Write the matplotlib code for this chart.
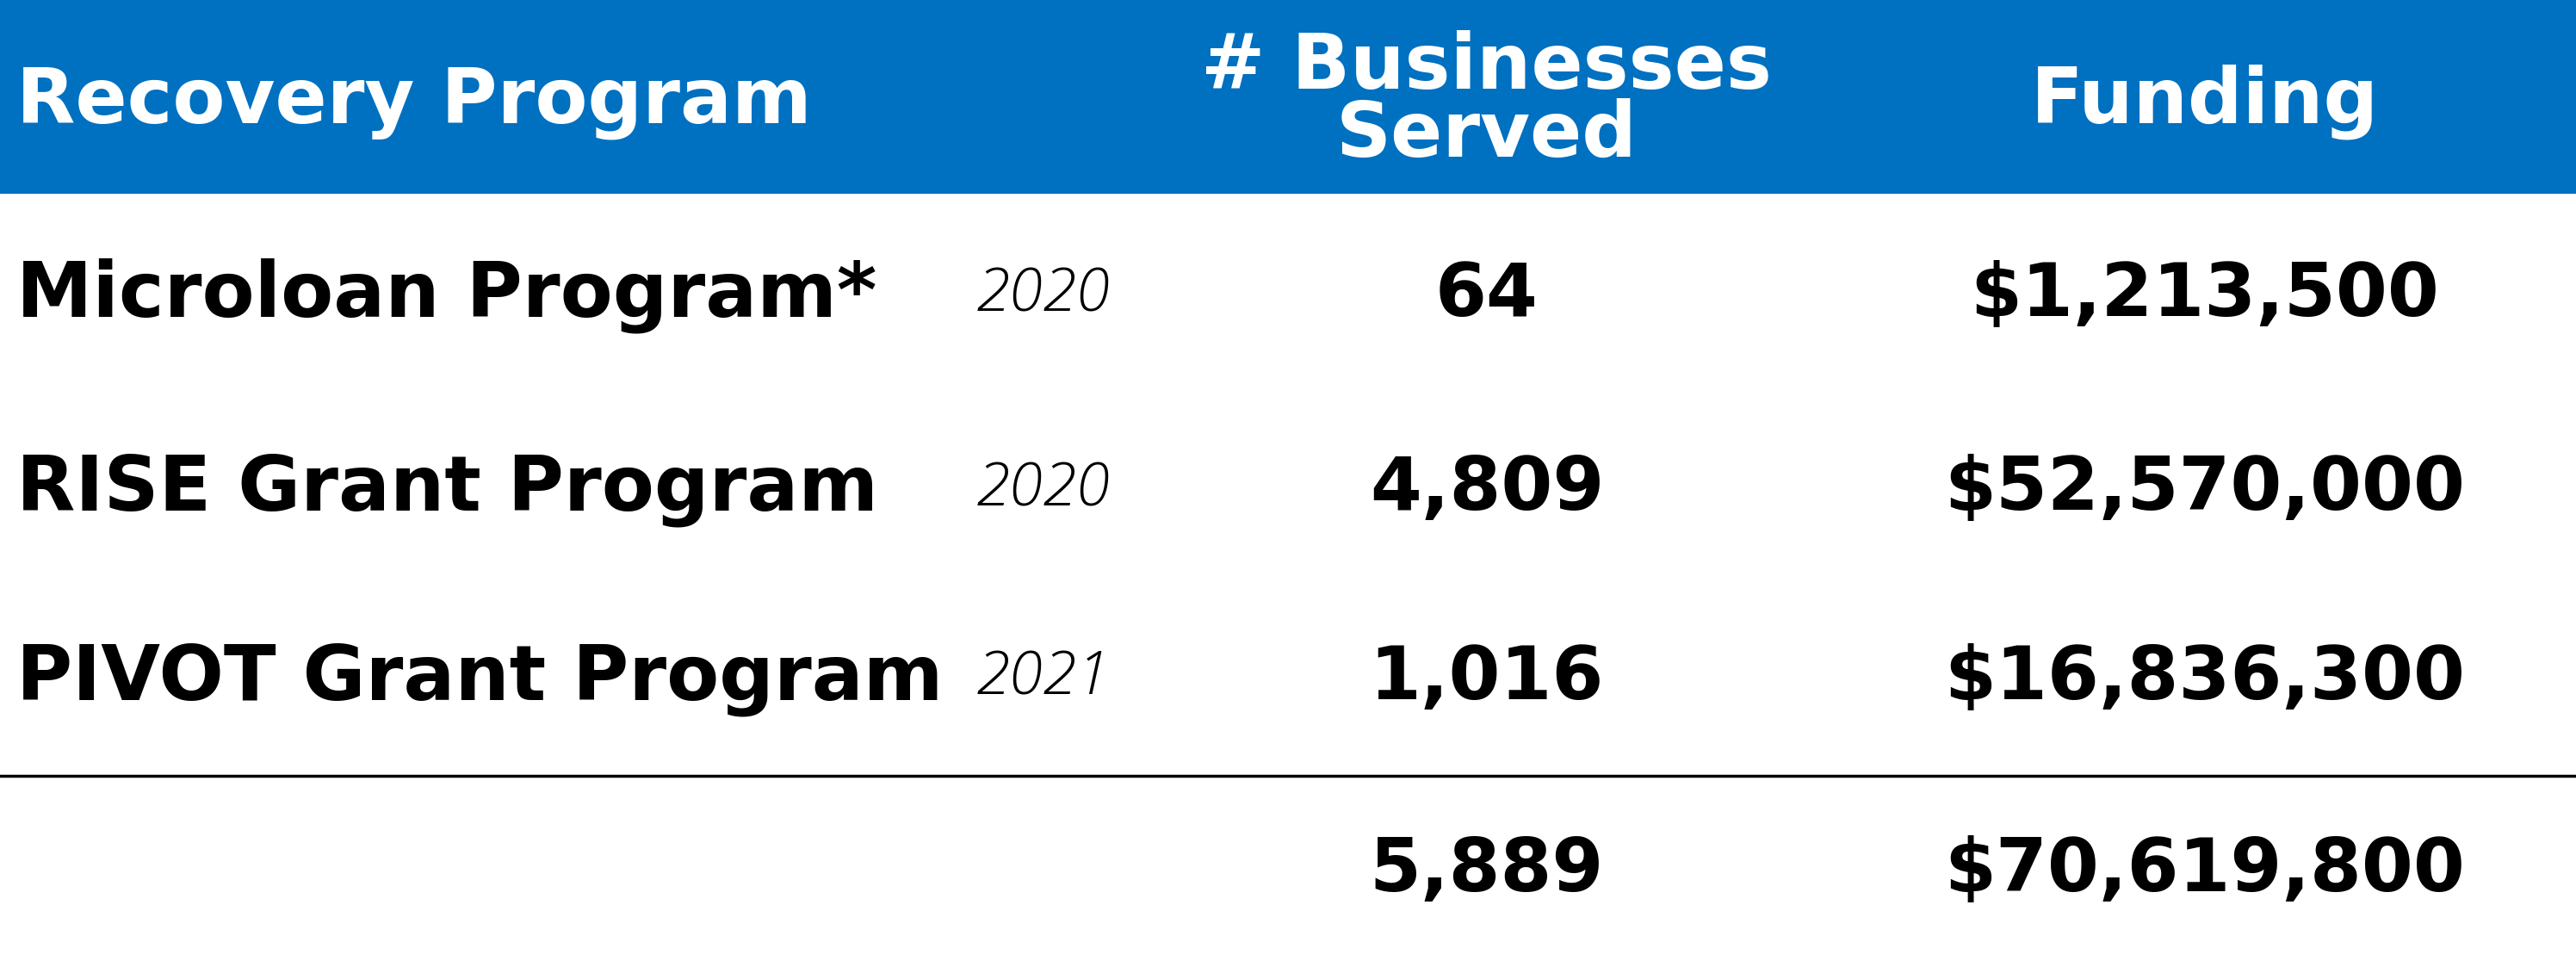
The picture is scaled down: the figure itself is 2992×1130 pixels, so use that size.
import matplotlib
matplotlib.use("Agg")
import matplotlib.pyplot as plt
from matplotlib.patches import Rectangle

# table contents
programs = ["Microloan Program*", "RISE Grant Program", "PIVOT Grant Program"]
years = ["2020", "2020", "2021"]
businesses = ["64", "4,809", "1,016"]
funding = ["$1,213,500", "$52,570,000", "$16,836,300"]
total_businesses = "5,889"
total_funding = "$70,619,800"
headers = ["Recovery Program", "# Businesses\nServed", "Funding"]

W, H = 1568, 592
BLUE = "#0070C0"

fig = plt.figure(figsize=(29.92, 11.30), dpi=100)
ax = fig.add_axes([0, 0, 1, 1])
ax.set_xlim(0, W)
ax.set_ylim(H, 0)
ax.axis("off")

# header band
ax.add_patch(Rectangle((0, 0), W, 118, color=BLUE, lw=0))
hkw = dict(color="white", fontweight="heavy", family="DejaVu Sans", fontsize=64,
           va="center", linespacing=0.88)
ax.text(10, 62, headers[0], ha="left", **hkw)
ax.text(905, 62, headers[1], ha="center", **hkw)
ax.text(1342, 62, headers[2], ha="center", **hkw)

row_y = [180, 298, 413]
clip = Rectangle((0, 0), 563, H, transform=ax.transData)
nkw = dict(color="black", fontweight="heavy", family="DejaVu Sans", fontsize=64, va="center")
vkw = dict(nkw, fontsize=62)
for name, yr, b, f, y in zip(programs, years, businesses, funding, row_y):
    t = ax.text(10, y, name, ha="left", **nkw)
    t.set_clip_path(clip)
    ax.text(635, y, yr, ha="center", va="center", fontsize=51, style="italic",
            family="Open Sans", fontweight="light", color="black")
    ax.text(905, y, b, ha="center", **vkw)
    ax.text(1342, y, f, ha="center", **vkw)

ax.plot([0, W], [472, 472], color="black", lw=2.5)
ax.text(905, 530, total_businesses, ha="center", **vkw)
ax.text(1342, 530, total_funding, ha="center", **vkw)

fig.savefig("out.png", dpi=100, facecolor="white")
